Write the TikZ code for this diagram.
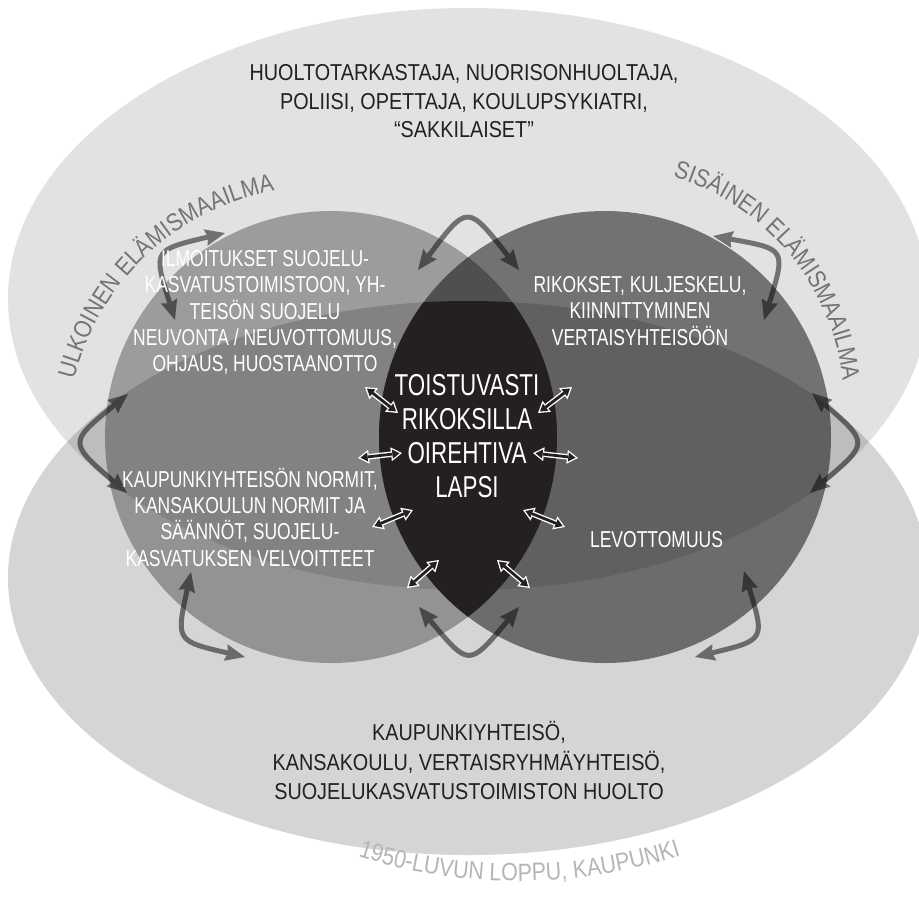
\documentclass[tikz,border=0pt]{standalone}
\usepackage{fontspec}
\setmainfont{Liberation Sans}[FakeStretch=0.86]
\newfontfamily\narrowfont{Liberation Sans}[FakeStretch=0.76]
\newfontfamily\lensfont{Liberation Sans}[FakeStretch=0.74]
\usetikzlibrary{arrows.meta,decorations.text}

\definecolor{inkblack}{rgb}{0.14,0.12,0.13}
\definecolor{labelgray}{rgb}{0.45,0.45,0.47}
\definecolor{yeargray}{rgb}{0.71,0.71,0.72}
\newcommand\arclabelfont{\fontsize{14.2}{16}\selectfont}

\begin{document}
\begin{tikzpicture}[x=0.02cm,y=-0.02cm,
	field/.style={fill=black,fill opacity=#1},
	blacktext/.style={text=inkblack,align=center,font=\fontsize{13.1}{#1}\selectfont},
	whitetext/.style={text=white,align=center,font=\narrowfont\fontsize{13.1}{14.9}\selectfont},
	lenstext/.style={text=white,align=center,font=\lensfont\fontsize{17.2}{19.35}\selectfont},
	arclabel/.style={decorate,decoration={text along path,text align=left,text color=#1}},
	grayarrow/.style={line width=0.1cm,>={Stealth[length=0.4cm,width=0.34cm,inset=0.05cm,line width=0pt]},<->},
	dblout/.style={white,line width=0.11cm,>={Triangle[length=0.22cm,width=0.28cm,line width=0pt]},<->},
	dblin/.style={inkblack,line width=0.056cm,shorten <=0.05cm,shorten >=0.05cm,>={Triangle[length=0.143cm,width=0.182cm,line width=0pt]},<->}]

	\useasboundingbox (0,0) rectangle (919,897);
	\clip (0,0) rectangle (919,897);

	% the two worlds and the two circles
	\fill[field=0.115] (468,299) ellipse [x radius=460,y radius=291];
	\fill[field=0.165] (468,578) ellipse [x radius=460,y radius=277];
	\fill[field=0.31] (331,437) circle [radius=226];
	\fill[field=0.495] (605,437) circle [radius=226];

	\begin{scope}
		\clip (331,437) circle [radius=226];
		\clip (605,437) circle [radius=226];
		\fill[inkblack] (468,578) ellipse [x radius=460,y radius=277];
	\end{scope}

	% gray arrows on the circle edges
	\coordinate (gs1) at (418,270);  \coordinate (gc1) at (467.5,204); \coordinate (ge1) at (519,270);
	\coordinate (gs2) at (419,607);  \coordinate (gc2) at (469,667);   \coordinate (ge2) at (519,607);
	\coordinate (gs3) at (225,233);  \coordinate (gc3) at (153,250);   \coordinate (ge3) at (175,320);
	\coordinate (gs4) at (128,394);  \coordinate (gc4) at (68.5,442.5);\coordinate (ge4) at (127,493);
	\coordinate (gs5) at (191,572);  \coordinate (gc5) at (176,641);   \coordinate (ge5) at (245,657);
	\coordinate (gs6) at (713,236);  \coordinate (gc6) at (786,249);   \coordinate (ge6) at (764,320);
	\coordinate (gs7) at (812,393);  \coordinate (gc7) at (869,443);   \coordinate (ge7) at (810,493);
	\coordinate (gs8) at (744,571);  \coordinate (gc8) at (765,640);   \coordinate (ge8) at (695,657);

	\begin{scope}[transparency group,opacity=0.5]
		\draw[grayarrow] (gs1) .. controls (gc1) .. (ge1);
		\draw[grayarrow] (gs2) .. controls (gc2) .. (ge2);
		\draw[grayarrow] (gs3) .. controls (gc3) .. (ge3);
		\draw[grayarrow] (gs4) .. controls (gc4) .. (ge4);
		\draw[grayarrow] (gs5) .. controls (gc5) .. (ge5);
		\draw[grayarrow] (gs6) .. controls (gc6) .. (ge6);
		\draw[grayarrow] (gs7) .. controls (gc7) .. (ge7);
		\draw[grayarrow] (gs8) .. controls (gc8) .. (ge8);
	\end{scope}

	% arc labels
	\path[arclabel=labelgray,decoration={text={|\arclabelfont|ULKOINEN ELÄMISMAAILMA}}] (74.3,379.7) arc [start angle=193.8,end angle=265,radius=253];
	\path[arclabel=labelgray,decoration={text={|\arclabelfont|SISÄINEN ELÄMISMAAILMA}}] (672.9,176.8) arc [start angle=286.5,end angle=362,radius=239];
	\path[arclabel=yeargray,decoration={text={|\arclabelfont|1950-LUVUN LOPPU, KAUPUNKI}}] (358,856.5) arc [start angle=107.4,end angle=62,radius=535];

	% texts
	\node[blacktext=16.2] (huolto) at (464,101.5) {HUOLTOTARKASTAJA, NUORISONHUOLTAJA,\\POLIISI, OPETTAJA, KOULUPSYKIATRI,\\“SAKKILAISET”};
	\node[blacktext=16.7] (kaupunki) at (469,760.8) {KAUPUNKIYHTEISÖ,\\KANSAKOULU, VERTAISRYHMÄYHTEISÖ,\\SUOJELUKASVATUSTOIMISTON HUOLTO};
	\node[whitetext] (ilmoitukset) at (265,312.5) {ILMOITUKSET SUOJELU-\\KASVATUSTOIMISTOON, YH-\\TEISÖN SUOJELU\\NEUVONTA / NEUVOTTOMUUS,\\OHJAUS, HUOSTAANOTTO};
	\node[whitetext] (normit) at (250,517.3) {KAUPUNKIYHTEISÖN NORMIT,\\KANSAKOULUN NORMIT JA\\SÄÄNNÖT, SUOJELU-\\KASVATUKSEN VELVOITTEET};
	\node[whitetext] (rikokset) at (640,311) {RIKOKSET, KULJESKELU,\\KIINNITTYMINEN\\VERTAISYHTEISÖÖN};
	\node[whitetext] (levottomuus) at (656.5,540) {LEVOTTOMUUS};
	\node[lenstext] (lapsi) at (467,436) {TOISTUVASTI\\RIKOKSILLA\\OIREHTIVA\\LAPSI};

	% white arrows round the child
	\coordinate (ws1) at (365,387); \coordinate (we1) at (398,413);
	\coordinate (ws2) at (538,413); \coordinate (we2) at (572,387);
	\coordinate (ws3) at (358,458); \coordinate (we3) at (402,453);
	\coordinate (ws4) at (533,453); \coordinate (we4) at (578,458);
	\coordinate (ws5) at (372,527); \coordinate (we5) at (413,510);
	\coordinate (ws6) at (523,510); \coordinate (we6) at (565,527);
	\coordinate (ws7) at (407,588); \coordinate (we7) at (439,560);
	\coordinate (ws8) at (497,560); \coordinate (we8) at (530,588);

	\draw[dblout] (ws1) -- (we1); \draw[dblin] (ws1) -- (we1);
	\draw[dblout] (ws2) -- (we2); \draw[dblin] (ws2) -- (we2);
	\draw[dblout] (ws3) -- (we3); \draw[dblin] (ws3) -- (we3);
	\draw[dblout] (ws4) -- (we4); \draw[dblin] (ws4) -- (we4);
	\draw[dblout] (ws5) -- (we5); \draw[dblin] (ws5) -- (we5);
	\draw[dblout] (ws6) -- (we6); \draw[dblin] (ws6) -- (we6);
	\draw[dblout] (ws7) -- (we7); \draw[dblin] (ws7) -- (we7);
	\draw[dblout] (ws8) -- (we8); \draw[dblin] (ws8) -- (we8);
\end{tikzpicture}
\end{document}
